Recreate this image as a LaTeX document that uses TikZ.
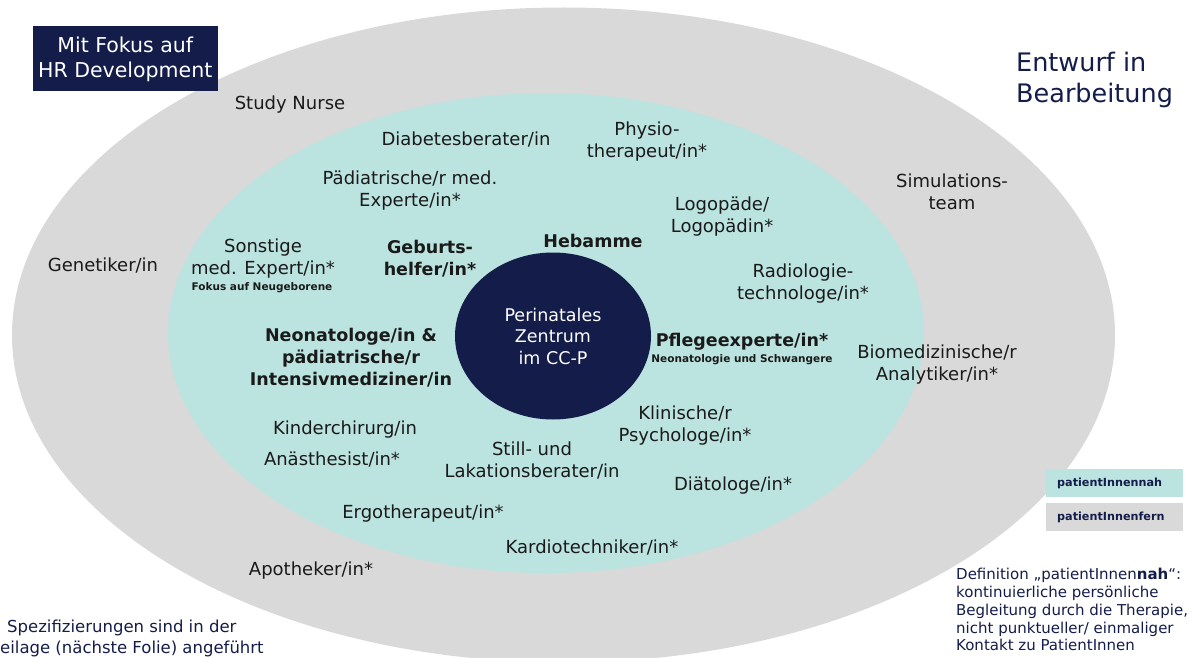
\documentclass[tikz,border=0pt]{standalone}
\usepackage{fontspec}
\setmainfont{DejaVu Sans}
\usetikzlibrary{shapes.geometric}
\definecolor{fern}{HTML}{D9D9D9}
\definecolor{nah}{HTML}{BBE3DF}
\definecolor{navy}{HTML}{141C4A}
\definecolor{ink}{HTML}{1A1A1A}

\begin{document}
\begin{tikzpicture}[x=1pt,y=-1pt,
  role/.style={font=\fontsize{18}{22}\selectfont, text=ink, align=center, inner sep=0pt},
  keyrole/.style={role, font=\fontsize{17.5}{22}\selectfont\bfseries},
  subnote/.style={font=\fontsize{10.5}{12}\selectfont\bfseries, text=ink, inner sep=0pt},
  ring/.style={ellipse, draw=none, inner sep=0pt, outer sep=0pt},
  legendbox/.style={font=\fontsize{11.2}{13}\selectfont\bfseries, text=navy,
    minimum height=28pt, text width=115pt, inner xsep=11pt, inner ysep=0pt, align=left},
  plain/.style={inner sep=0pt, align=left}
]
\useasboundingbox (0,0) rectangle (1192,658);

% rings: patient-distant, patient-near, centre
\node[ring, fill=fern, minimum width=1103pt, minimum height=655pt] (outer) at (563.5,335) {};
\node[ring, fill=nah, minimum width=756pt, minimum height=480pt] (inner) at (546,333) {};
\node[ring, fill=navy, minimum width=196pt, minimum height=167pt, text=white,
      align=center, font=\fontsize{17.5}{21.5}\selectfont] (core) at (553,336)
      {Perinatales\\Zentrum\\im CC-P};

% header box and title
\node[fill=navy, text=white, align=center, minimum width=185.5pt, minimum height=65pt,
      inner sep=0pt, font=\fontsize{20.5}{25}\selectfont] (focus) at (125.25,59)
      {Mit Fokus auf\\HR Development};
\node[plain, anchor=west, text=navy, font=\fontsize{25.5}{31}\selectfont] (draft) at (1016,80)
      {Entwurf in\\Bearbeitung};

% outer ring roles
\node[role] (study) at (290,105) {Study Nurse};
\node[role] (sim) at (952,192) {Simulations-\\team};
\node[role] (gen) at (103,265) {Genetiker/in};
\node[role] (bio) at (937,365) {Biomedizinische/r\\Analytiker/in*};
\node[role] (apo) at (311,571) {Apotheker/in*};

% inner ring roles
\node[role] (diab) at (466,139) {Diabetesberater/in};
\node[role] (physio) at (647,142) {Physio-\\therapeut/in*};
\node[role] (paed) at (410,191) {Pädiatrische/r med.\\Experte/in*};
\node[role] (logo) at (722,217) {Logopäde/\\Logopädin*};
\node[role] (sonst) at (263,259) {Sonstige\\med. Expert/in*};
\node[subnote] (sonstnote) at (262,288) {Fokus auf Neugeborene};
\node[keyrole] (geb) at (430,259) {Geburts-\\helfer/in*};
\node[keyrole] (heb) at (593,241) {Hebamme};
\node[role] (radio) at (803,284) {Radiologie-\\technologe/in*};
\node[keyrole] (neo) at (351,358) {Neonatologe/in \&\\pädiatrische/r\\Intensivmediziner/in};
\node[keyrole] (pflege) at (742,342) {Pflegeexperte/in*};
\node[subnote] (pflegenote) at (742,360) {Neonatologie und Schwangere};
\node[role] (psych) at (685,426) {Klinische/r\\Psychologe/in*};
\node[role] (kinder) at (345,430) {Kinderchirurg/in};
\node[role] (anae) at (332,459) {Anästhesist/in*};
\node[role] (still) at (532,460) {Still- und\\Lakationsberater/in};
\node[role] (diaet) at (733,486) {Diätologe/in*};
\node[role] (ergo) at (423,514) {Ergotherapeut/in*};
\node[role] (kardio) at (592,547) {Kardiotechniker/in*};

% legend
\node[legendbox, fill=nah, anchor=north west] (keynah) at (1046,469) {patientInnennah};
\node[legendbox, fill=fern, anchor=north west] (keyfern) at (1046,503) {patientInnenfern};

% definition
\node[plain, anchor=north west, text=navy, font=\fontsize{15}{17.8}\selectfont] (defn) at (956,568)
  {Definition „patientInnen\textbf{nah}“:\\kontinuierliche persönliche\\Begleitung durch die Therapie,\\nicht punktueller/ einmaliger\\Kontakt zu PatientInnen};

% footnote
\node[plain, anchor=west, text=navy, font=\fontsize{16.5}{21}\selectfont] (spec1) at (7,628) {Spezifizierungen sind in der};
\node[plain, anchor=west, text=navy, font=\fontsize{16.5}{21}\selectfont] (spec2) at (0,649) {eilage (nächste Folie) angeführt};
\end{tikzpicture}
\end{document}
